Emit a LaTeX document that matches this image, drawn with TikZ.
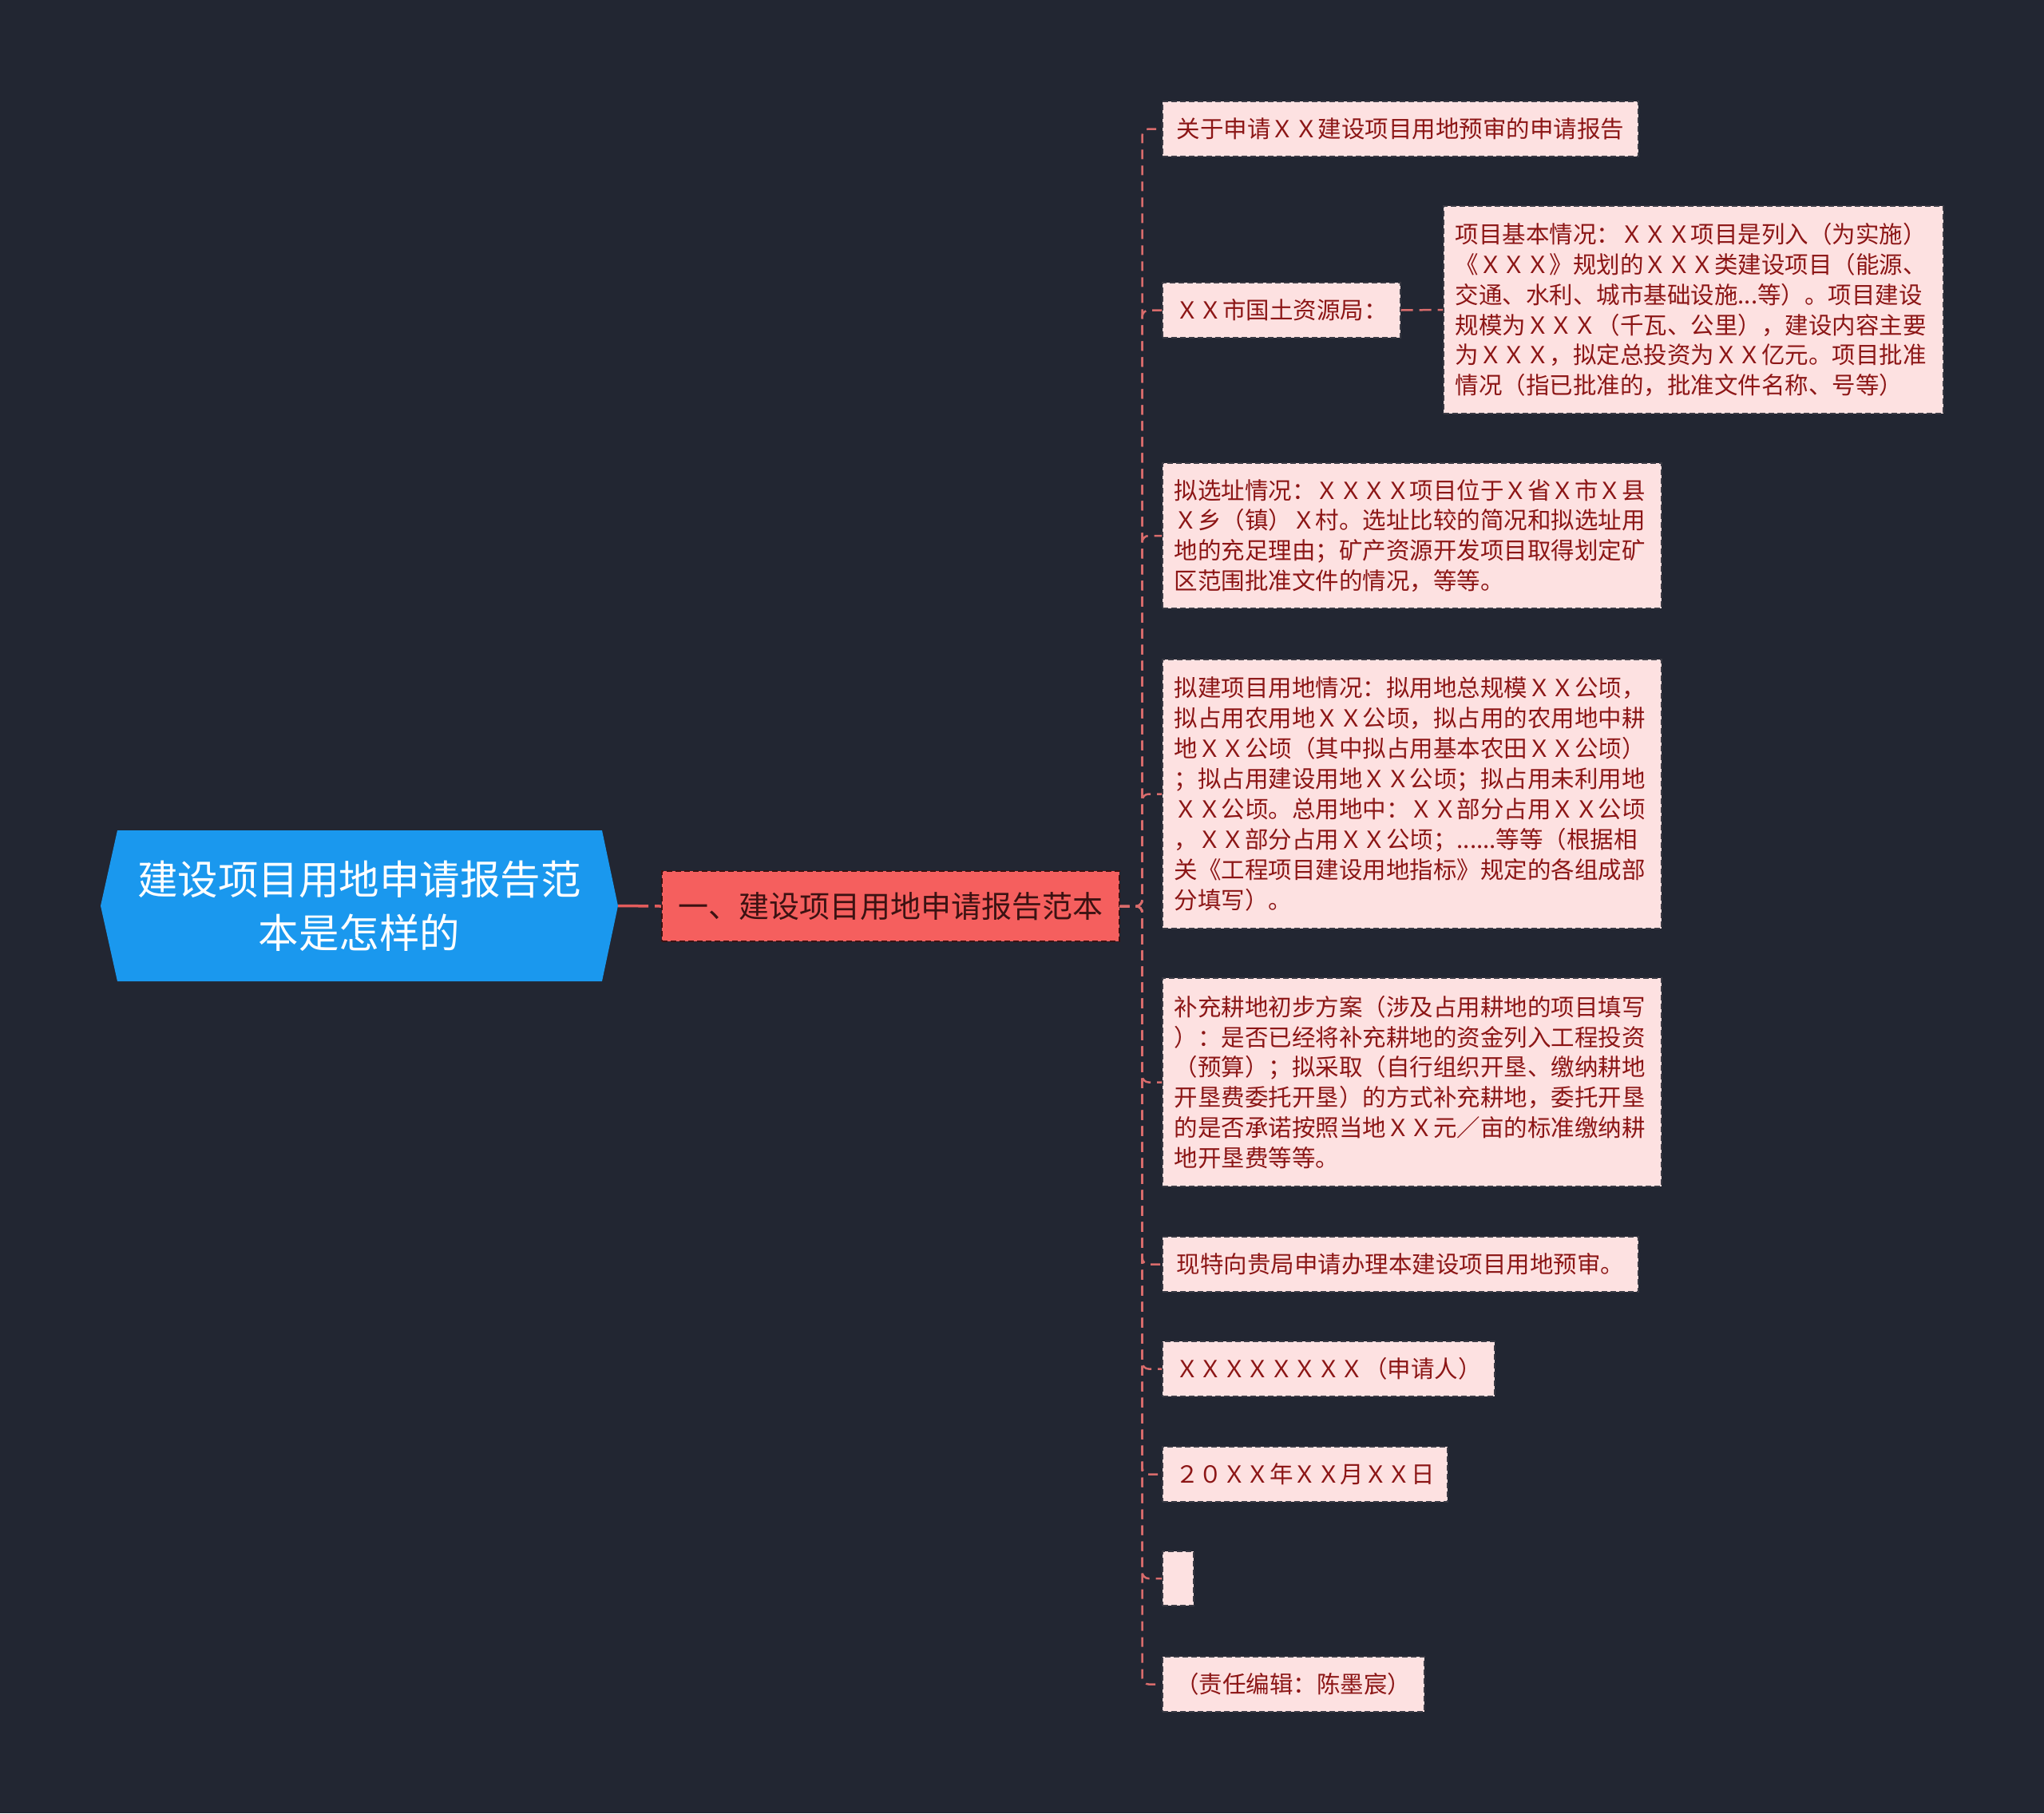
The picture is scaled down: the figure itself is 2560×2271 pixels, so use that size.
\documentclass[tikz,border=0pt]{standalone}
\usepackage{fontspec}
\newfontfamily\cjk{Noto Sans CJK SC}
\definecolor{bgc}{HTML}{222632}
\definecolor{rootfill}{HTML}{1A98EE}
\definecolor{lonefill}{HTML}{F55F5E}
\definecolor{lonetext}{HTML}{3C1212}
\definecolor{boxfill}{HTML}{FDE1E1}
\definecolor{boxtext}{HTML}{8C1616}
\definecolor{boxedge}{HTML}{3A3A44}
\definecolor{linec}{HTML}{D96C6C}
\definecolor{rootline}{HTML}{E35C5C}
\tikzset{
  rootstyle/.style={text=white, align=center, font=\cjk\fontsize{50.5pt}{67pt}\selectfont,
    minimum width=648pt, minimum height=189pt, inner sep=0pt},
  lonebox/.style={fill=lonefill, draw=lonetext, line width=1.6pt, dash pattern=on 7pt off 4pt,
    text=lonetext, font=\cjk\fontsize{38pt}{46pt}\selectfont, anchor=west,
    minimum width=573pt, minimum height=88pt, inner xsep=18pt, inner ysep=0pt},
  leafbox/.style={fill=boxfill, draw=boxedge, line width=1.5pt, dash pattern=on 7pt off 4pt,
    text=boxtext, font=\cjk\fontsize{29.5pt}{37.9pt}\selectfont, anchor=west,
    minimum height=69pt, inner xsep=15pt, inner ysep=0pt},
  multibox/.style={leafbox, align=left},
  conn/.style={draw=linec, line width=2.5pt, dash pattern=on 12pt off 8pt, rounded corners=8pt},
  rootconn/.style={draw=rootline, line width=3.5pt, dash pattern=on 38pt off 8pt},
}
\begin{document}
\begin{tikzpicture}[x=1pt,y=-1pt]
\useasboundingbox (0,0) rectangle (2560,2271);
\fill[bgc] (0,0) rectangle (2560,2271);

% root
\fill[rootfill] (126,1134.5) -- (147,1040) -- (754,1040) -- (774,1134.5) -- (754,1229) -- (147,1229) -- cycle;
\node[rootstyle] (root) at (450,1134.5) {建设项目用地申请报告范\\本是怎样的};

% level one
\node[lonebox] (l1) at (828,1135) {一、建设项目用地申请报告范本};

% leaves
\node[leafbox, minimum width=596pt] (c1) at (1455,161.5) {关于申请ＸＸ建设项目用地预审的申请报告};
\node[leafbox, minimum width=298pt] (c2) at (1455,388.5) {ＸＸ市国土资源局：};
\node[multibox, text width=596pt, minimum height=260pt] (c2a) at (1807,388) {项目基本情况：ＸＸＸ项目是列入（为实施）\\《ＸＸＸ》规划的ＸＸＸ类建设项目（能源、\\交通、水利、城市基础设施...等）。项目建设\\规模为ＸＸＸ（千瓦、公里），建设内容主要\\为ＸＸＸ，拟定总投资为ＸＸ亿元。项目批准\\情况（指已批准的，批准文件名称、号等）};
\node[multibox, text width=595pt, minimum height=182pt] (c3) at (1455,671) {拟选址情况：ＸＸＸＸ项目位于Ｘ省Ｘ市Ｘ县\\Ｘ乡（镇）Ｘ村。选址比较的简况和拟选址用\\地的充足理由；矿产资源开发项目取得划定矿\\区范围批准文件的情况，等等。};
\node[multibox, text width=595pt, minimum height=337pt] (c4) at (1455,994.5) {拟建项目用地情况：拟用地总规模ＸＸ公顷，\\拟占用农用地ＸＸ公顷，拟占用的农用地中耕\\地ＸＸ公顷（其中拟占用基本农田ＸＸ公顷）\\；拟占用建设用地ＸＸ公顷；拟占用未利用地\\ＸＸ公顷。总用地中：ＸＸ部分占用ＸＸ公顷\\，ＸＸ部分占用ＸＸ公顷；......等等（根据相\\关《工程项目建设用地指标》规定的各组成部\\分填写）。};
\node[multibox, text width=595pt, minimum height=261pt] (c5) at (1455,1355.5) {补充耕地初步方案（涉及占用耕地的项目填写\\）：是否已经将补充耕地的资金列入工程投资\\（预算）；拟采取（自行组织开垦、缴纳耕地\\开垦费委托开垦）的方式补充耕地，委托开垦\\的是否承诺按照当地ＸＸ元／亩的标准缴纳耕\\地开垦费等等。};
\node[leafbox, minimum width=596pt] (c6) at (1455,1583.5) {现特向贵局申请办理本建设项目用地预审。};
\node[leafbox, minimum width=416pt] (c7) at (1455,1714.5) {ＸＸＸＸＸＸＸＸ（申请人）};
\node[leafbox, minimum width=357pt] (c8) at (1455,1846.5) {２０ＸＸ年ＸＸ月ＸＸ日};
\node[leafbox, minimum width=39pt, minimum height=68pt, inner xsep=0pt] (c9) at (1455,1977) {};
\node[leafbox, minimum width=328pt] (c10) at (1455,2109.5) {（责任编辑：陈墨宸）};

% connectors
\draw[rootconn] (root.east) -- (l1.west);
\foreach \c in {c1,c2,c3,c4,c5,c6,c7,c8,c9,c10}{
  \draw[conn] (l1.east) -- ++(28,0) |- (\c.west);
}
\draw[conn, rounded corners=0pt, dash pattern=on 15pt off 8pt] (c2.east) -- (c2a.west);
\end{tikzpicture}
\end{document}
